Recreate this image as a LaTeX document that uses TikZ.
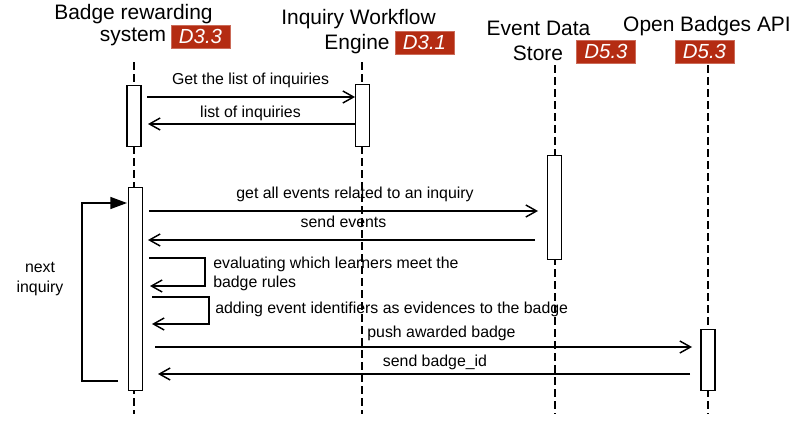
\documentclass[tikz,border=0pt]{standalone}
\usepackage{fontspec}
\setmainfont{Liberation Sans}
\usetikzlibrary{arrows.meta}
\definecolor{tagred}{RGB}{180,44,18}
\tikzset{
  head/.style={font=\fontsize{15.7}{19}\selectfont, inner sep=0pt},
  tag/.style={fill=tagred, draw=tagred!70!white, line width=0.4pt, text=white,
    font=\fontsize{15.3}{18}\selectfont\itshape, minimum width=44.25pt,
    minimum height=17.5pt, inner sep=0pt},
  msg/.style={font=\fontsize{11.9}{14}\selectfont, inner sep=0pt},
  lifeline/.style={line width=1.1pt, dash pattern=on 6pt off 3pt},
  actbox/.style={draw, fill=white, line width=0.8pt, minimum width=10.5pt, inner sep=0pt},
  call/.style={line width=1.1pt, -{Straight Barb[length=8pt,width=9pt,line width=1.1pt]}},
  loopback/.style={line width=1.1pt, -{Triangle[length=12.5pt,width=9pt]}}
}
\begin{document}
\begin{tikzpicture}[x=0.75pt,y=-0.75pt]
\useasboundingbox (0,0) rectangle (800,421);
% headers
\node[head] (h1a) at (133.5,14) {Badge rewarding};
\node[head] (h1b) at (133,37) {system};
\node[tag] (t1) at (200.5,36.5) {D3.3};
\node[head] (h2a) at (358.5,19) {Inquiry Workflow};
\node[head] (h2b) at (357,44) {Engine};
\node[tag] (t2) at (424.5,42.5) {D3.1};
\node[head] (h3a) at (538.5,28) {Event Data};
\node[head] (h3b) at (538,53) {Store};
\node[tag] (t3) at (606,51.5) {D5.3};
\node[head] (h4a) at (707,26) {Open Badges API};
\node[tag] (t4) at (704.5,51.5) {D5.3};
% lifelines
\coordinate (l1t) at (134,62); \coordinate (l1b) at (134,414);
\coordinate (l2t) at (362,62); \coordinate (l2b) at (362,414);
\coordinate (l3t) at (555,65); \coordinate (l3b) at (555,414);
\coordinate (l4t) at (708,65); \coordinate (l4b) at (708,414);
\draw[lifeline] (l1t) -- (l1b);
\draw[lifeline] (l2t) -- (l2b);
\draw[lifeline] (l3t) -- (l3b);
\draw[lifeline] (l4t) -- (l4b);
% activation boxes
\node[actbox, minimum height=45.75pt, anchor=north] (b1) at (134,85) {};
\node[actbox, minimum height=46.5pt, anchor=north, minimum width=11pt] (i1) at (362.5,84) {};
\node[actbox, minimum height=152.25pt, anchor=north, minimum width=11pt] (b2) at (135.5,187) {};
\node[actbox, minimum height=78pt, anchor=north, minimum width=11pt] (e1) at (554.5,155) {};
\node[actbox, minimum height=45.75pt, anchor=north] (o1) at (708,329) {};
% messages
\coordinate (m1s) at (147,97);  \coordinate (m1e) at (355,97);
\draw[call] (m1s) -- (m1e);
\node[msg] (m1) at (250.5,80) {Get the list of inquiries};
\coordinate (m2s) at (355,124); \coordinate (m2e) at (148,124);
\draw[call] (m2s) -- (m2e);
\node[msg] (m2) at (250.5,113) {list of inquiries};
\coordinate (m3s) at (149,211); \coordinate (m3e) at (538,211);
\draw[call] (m3s) -- (m3e);
\node[msg] (m3) at (355,194) {get all events related to an inquiry};
\coordinate (m4s) at (535,240); \coordinate (m4e) at (148,240);
\draw[call] (m4s) -- (m4e);
\node[msg] (m4) at (343.5,222) {send events};
% self loops
\coordinate (s1a) at (149,258); \coordinate (s1b) at (205,258);
\coordinate (s1c) at (205,286); \coordinate (s1d) at (150,286);
\draw[call] (s1a) -- (s1b) -- (s1c) -- (s1d);
\node[msg, anchor=west] (s1t1) at (213,264) {evaluating which learners meet the};
\node[msg, anchor=west] (s1t2) at (213,283) {badge rules};
\coordinate (s2a) at (152,297); \coordinate (s2b) at (209,297);
\coordinate (s2c) at (209,324); \coordinate (s2d) at (152,324);
\draw[call] (s2a) -- (s2b) -- (s2c) -- (s2d);
\node[msg, anchor=west] (s2t) at (215,309) {adding event identifiers as evidences to the badge};
\coordinate (m5s) at (155,347); \coordinate (m5e) at (692,347);
\draw[call] (m5s) -- (m5e);
\node[msg] (m5) at (441.5,333) {push awarded badge};
\coordinate (m6s) at (690,374); \coordinate (m6e) at (158,374);
\draw[call] (m6s) -- (m6e);
\node[msg] (m6) at (435,362) {send badge\_id};
% loop back
\coordinate (r1) at (118,381); \coordinate (r2) at (82,381);
\coordinate (r3) at (82,203); \coordinate (r4) at (127,203);
\draw[loopback] (r1) -- (r2) -- (r3) -- (r4);
\node[msg, align=center] (nx) at (40,279) {next\\[1pt]inquiry};
\end{tikzpicture}
\end{document}
